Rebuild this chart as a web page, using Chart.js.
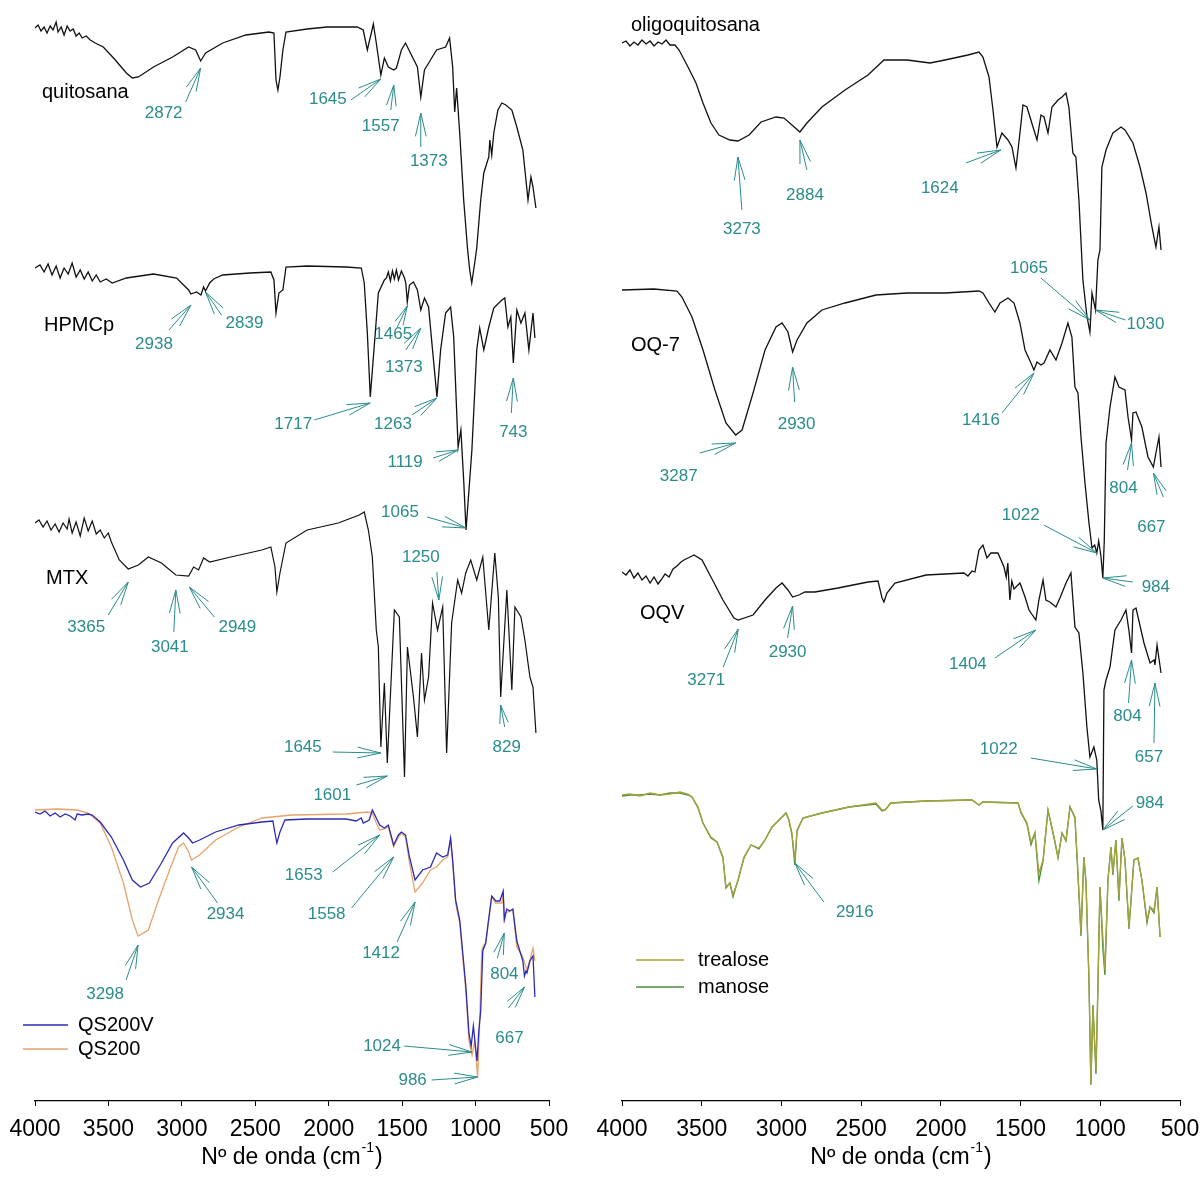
<!DOCTYPE html>
<html>
<head>
<meta charset="utf-8">
<title>Espectros FTIR</title>
<script src="https://cdn.jsdelivr.net/npm/chart.js@4.4.1/dist/chart.umd.min.js"></script>
<style>
  html, body { margin: 0; padding: 0; background: #fff; }
  #wrap { position: relative; width: 1201px; height: 1179px; overflow: hidden; background: #fff; }
  .panel { position: absolute; top: 0; }
  #pLeft { left: 0; }
  #pRight { left: 580px; }
</style>
</head>
<body>
<div id="wrap">
  <div class="panel" id="pLeft"><canvas id="cLeft" width="580" height="1179"></canvas></div>
  <div class="panel" id="pRight"><canvas id="cRight" width="621" height="1179"></canvas></div>
</div>
<script>
// ---- Spectra: [wavenumber (cm-1), transmittance (a.u., stacked offset)] ----
const quitosana = [
  [4000,1073],[3979,1076],[3959,1070],[3938,1074],[3918,1068],[3897,1075],[3877,1071],[3856,1079],[3843,1069],[3822,1074],
  [3802,1066],[3781,1075],[3761,1070],[3740,1072],[3720,1065],[3699,1068],[3679,1063],[3651,1065],[3624,1061],[3590,1058],
  [3535,1054],[3453,1041],[3378,1028],[3337,1023],[3296,1024],[3193,1034],[3063,1044],[2954,1054],[2906,1051],[2872,1040],
  [2838,1048],[2722,1058],[2564,1066],[2407,1069],[2373,1068],[2359,1021],[2346,1011],[2332,1024],[2312,1051],[2291,1069],
  [2147,1072],[2011,1074],[1806,1074],[1765,1071],[1737,1051],[1710,1068],[1696,1077],[1676,1058],[1645,1026],[1621,1043],
  [1594,1034],[1557,1031],[1539,1033],[1505,1051],[1477,1058],[1437,1046],[1396,1034],[1373,1004],[1348,1031],[1307,1041],
  [1266,1051],[1204,1054],[1177,1063],[1156,1034],[1142,989],[1129,1013],[1108,968],[1081,901],[1054,851],[1040,831],
  [1026,818],[1006,838],[992,853],[965,901],[944,928],[910,944],[903,961],[890,946],[876,968],[848,991],
  [821,998],[794,996],[753,991],[719,974],[678,951],[657,921],[643,901],[623,924],[609,914],[589,893]
];
const hpmcp = [
  [4000,833],[3966,836],[3938,829],[3911,837],[3884,826],[3856,835],[3829,823],[3802,833],[3774,827],[3747,838],
  [3720,824],[3692,831],[3665,822],[3638,829],[3610,820],[3583,826],[3556,819],[3515,822],[3474,818],[3378,823],
  [3193,827],[3036,823],[2954,811],[2938,807],[2900,809],[2870,806],[2852,814],[2839,810],[2811,818],[2783,822],
  [2722,826],[2537,828],[2394,829],[2373,821],[2359,788],[2339,808],[2312,811],[2291,834],[2147,835],[1881,834],
  [1778,833],[1758,818],[1737,768],[1717,704],[1683,768],[1662,808],[1621,821],[1607,823],[1594,829],[1580,820],
  [1566,830],[1553,822],[1539,831],[1525,821],[1505,830],[1484,823],[1475,818],[1465,799],[1450,816],[1423,819],
  [1396,811],[1373,791],[1348,803],[1320,794],[1293,751],[1263,704],[1238,751],[1204,788],[1170,794],[1149,764],
  [1119,654],[1100,671],[1080,618],[1065,571],[1045,611],[1025,651],[992,751],[972,773],[944,751],[910,774],
  [876,793],[821,801],[801,803],[780,774],[760,784],[743,738],[719,791],[691,778],[664,788],[637,751],
  [609,788],[596,763]
];
const mtx = [
  [4000,578],[3973,581],[3945,574],[3918,580],[3891,571],[3863,577],[3836,569],[3809,578],[3781,572],[3768,582],
  [3747,568],[3720,579],[3692,565],[3665,583],[3638,570],[3610,580],[3583,567],[3556,571],[3528,563],[3501,568],
  [3480,559],[3426,541],[3365,532],[3296,536],[3228,544],[3139,538],[3041,526],[2954,525],[2920,534],[2886,531],
  [2852,543],[2811,539],[2667,544],[2455,551],[2394,554],[2366,534],[2353,509],[2332,528],[2291,558],[2147,571],
  [1935,578],[1792,586],[1758,589],[1730,571],[1703,544],[1676,471],[1662,454],[1645,354],[1621,418],[1601,338],
  [1553,491],[1519,484],[1484,324],[1464,454],[1423,404],[1396,364],[1368,448],[1348,401],[1320,424],[1293,498],
  [1259,471],[1224,494],[1197,348],[1163,478],[1122,521],[1095,508],[1067,528],[1033,541],[992,521],[951,544],
  [910,471],[869,548],[845,504],[829,404],[787,511],[753,411],[732,494],[691,484],[664,461],[630,424],
  [609,414],[589,368]
];
const qs200v = [
  [4000,289],[3966,287],[3932,290],[3897,285],[3863,288],[3829,284],[3795,287],[3761,285],[3727,281],[3713,287],
  [3679,286],[3638,287],[3610,286],[3556,279],[3480,264],[3398,241],[3337,221],[3282,214],[3221,218],[3139,238],
  [3063,258],[2988,268],[2954,263],[2927,258],[2879,261],[2770,269],[2612,276],[2455,279],[2380,280],[2366,268],
  [2353,258],[2332,269],[2298,281],[2147,282],[1881,282],[1813,280],[1778,283],[1765,278],[1724,281],[1703,291],
  [1676,283],[1653,276],[1621,273],[1594,276],[1558,256],[1525,266],[1505,269],[1477,266],[1450,244],[1412,221],
  [1361,231],[1307,234],[1266,248],[1224,244],[1190,246],[1170,263],[1156,241],[1136,201],[1108,181],[1067,116],
  [1045,68],[1030,55],[1015,75],[1006,62],[990,40],[978,70],[965,90],[951,150],[931,158],[910,183],
  [890,205],[862,200],[835,200],[812,210],[804,182],[787,192],[767,190],[746,192],[719,160],[678,140],
  [667,125],[657,130],[650,128],[630,140],[609,145],[596,104]
];
const qs200 = [
  [4000,291],[3850,292],[3713,291],[3638,288],[3556,278],[3480,254],[3398,218],[3337,181],[3298,165],[3228,171],
  [3166,198],[3084,231],[3022,254],[2988,258],[2954,249],[2934,241],[2879,246],[2770,261],[2612,274],[2455,283],
  [2250,286],[1881,287],[1737,289],[1703,288],[1676,278],[1653,271],[1621,272],[1594,274],[1558,254],[1525,264],
  [1505,268],[1477,264],[1450,238],[1412,209],[1361,218],[1307,231],[1266,234],[1224,241],[1190,244],[1170,261],
  [1156,238],[1136,198],[1108,178],[1067,111],[1045,60],[1024,46],[1006,60],[986,24],[972,80],[958,150],
  [951,154],[931,158],[910,181],[890,204],[862,198],[835,198],[821,198],[812,208],[804,178],[795,188],
  [767,190],[746,191],[719,154],[678,144],[650,131],[630,141],[609,153],[596,140]
];
const oligoquitosana = [
  [4000,1058],[3975,1060],[3950,1055],[3925,1059],[3900,1056],[3875,1061],[3849,1057],[3824,1060],[3799,1055],[3774,1059],
  [3749,1057],[3724,1061],[3699,1056],[3668,1056],[3642,1051],[3586,1034],[3536,1018],[3492,998],[3442,978],[3392,966],
  [3323,961],[3273,960],[3203,966],[3128,979],[3034,984],[2984,983],[2934,976],[2884,969],[2840,978],[2746,994],
  [2601,1011],[2457,1026],[2357,1041],[2212,1041],[2068,1038],[1974,1041],[1830,1046],[1761,1049],[1736,1044],[1698,1024],
  [1673,991],[1648,954],[1617,968],[1579,961],[1554,954],[1529,933],[1504,968],[1485,996],[1460,994],[1422,974],
  [1397,961],[1372,986],[1353,984],[1328,968],[1303,994],[1265,1001],[1240,1004],[1215,1008],[1197,994],[1172,948],
  [1153,944],[1134,901],[1109,821],[1084,785],[1065,769],[1052,808],[1030,791],[1015,841],[1002,851],[990,934],
  [964,951],[939,961],[921,968],[895,971],[870,974],[845,971],[795,958],[751,934],[713,908],[676,874],
  [651,854],[632,874],[619,851]
];
const oq7 = [
  [4000,811],[3800,812],[3655,810],[3624,804],[3561,784],[3492,751],[3417,711],[3348,678],[3287,666],[3247,671],
  [3178,708],[3103,751],[3034,774],[2996,778],[2959,769],[2930,749],[2902,761],[2840,778],[2746,791],[2601,798],
  [2407,806],[2212,808],[1974,808],[1761,810],[1736,808],[1698,798],[1661,789],[1629,798],[1579,803],[1541,798],
  [1504,778],[1472,751],[1435,738],[1416,731],[1397,739],[1372,736],[1353,738],[1316,751],[1278,741],[1240,758],
  [1203,778],[1178,764],[1159,714],[1140,708],[1121,664],[1096,618],[1071,578],[1052,553],[1035,556],[1022,548],
  [1010,560],[996,545],[984,523],[975,560],[964,658],[939,694],[908,724],[883,714],[845,711],[826,684],
  [804,661],[795,688],[776,689],[739,674],[701,644],[667,634],[651,648],[632,664],[619,634]
];
const oqv = [
  [4000,529],[3975,526],[3950,531],[3925,523],[3900,528],[3875,521],[3849,525],[3824,518],[3799,524],[3774,517],
  [3755,521],[3730,527],[3705,524],[3680,532],[3655,535],[3630,539],[3611,541],[3586,543],[3561,545],[3548,546],
  [3498,541],[3442,524],[3367,501],[3298,483],[3271,481],[3178,486],[3103,501],[3034,513],[2996,518],[2959,511],
  [2930,504],[2890,506],[2852,509],[2790,509],[2645,513],[2457,519],[2394,520],[2369,503],[2357,499],[2338,508],
  [2288,518],[2093,526],[1855,528],[1830,525],[1805,530],[1786,529],[1761,551],[1736,556],[1711,543],[1686,548],
  [1642,548],[1604,534],[1590,524],[1580,538],[1567,501],[1555,520],[1541,512],[1504,518],[1472,504],[1447,491],
  [1404,481],[1385,501],[1359,521],[1341,501],[1316,499],[1278,494],[1253,503],[1215,518],[1184,528],[1159,474],
  [1134,468],[1109,428],[1084,374],[1065,344],[1040,354],[1022,341],[1010,301],[996,290],[984,271],[977,411],
  [964,421],[939,434],[908,471],[870,481],[839,491],[820,470],[804,448],[795,491],[776,493],[726,458],
  [688,438],[663,441],[657,436],[644,456],[619,428]
];
const trealose = [
  [4000,306],[3950,307],[3887,305],[3824,308],[3762,306],[3699,307],[3636,309],[3586,307],[3561,304],[3523,294],
  [3492,278],[3442,264],[3404,259],[3367,244],[3348,214],[3323,218],[3304,206],[3272,221],[3235,244],[3191,256],
  [3141,253],[3103,261],[3059,274],[2996,284],[2971,288],[2953,281],[2934,268],[2916,241],[2902,271],[2865,283],
  [2746,288],[2576,294],[2407,298],[2369,291],[2350,291],[2313,298],[2093,300],[1805,301],[1761,296],[1736,299],
  [1516,298],[1497,289],[1460,278],[1435,259],[1410,268],[1385,228],[1359,241],[1328,291],[1290,264],[1265,244],
  [1240,268],[1215,261],[1190,294],[1159,284],[1140,228],[1121,168],[1103,244],[1090,221],[1071,124],[1059,18],
  [1046,94],[1027,31],[1015,114],[1002,214],[983,161],[971,131],[952,221],[933,254],[921,228],[902,261],
  [883,204],[864,263],[845,241],[820,174],[789,241],[764,243],[739,221],[707,181],[688,194],[663,191],
  [644,214],[625,164]
];
const manose = [
  [4000,305],[3950,306],[3887,306],[3824,307],[3762,306],[3699,308],[3636,308],[3586,306],[3561,304],[3523,293],
  [3492,278],[3442,263],[3404,259],[3367,243],[3348,213],[3323,218],[3304,204],[3272,221],[3235,243],[3191,256],
  [3141,252],[3103,261],[3059,274],[2996,284],[2971,288],[2953,281],[2934,266],[2916,236],[2902,270],[2865,283],
  [2746,288],[2576,294],[2407,297],[2369,290],[2350,291],[2313,298],[2093,300],[1805,301],[1761,296],[1736,299],
  [1516,298],[1497,288],[1460,277],[1435,256],[1410,268],[1385,220],[1359,240],[1328,291],[1290,263],[1265,243],
  [1240,268],[1215,260],[1190,294],[1159,283],[1140,226],[1121,165],[1103,244],[1090,219],[1071,120],[1059,16],
  [1046,96],[1027,27],[1015,112],[1002,214],[983,150],[971,126],[952,221],[933,254],[921,226],[902,261],
  [883,200],[864,263],[845,241],[820,172],[789,241],[764,243],[739,221],[707,178],[688,194],[663,188],
  [644,214],[625,164]
];

// ---- Assigned bands (cm-1) and the transmittance level each arrow points at ----
const leftPeaks  = [2872,1645,1557,1373, 2938,2839,1465,1373,1717,1263,743,1119,1065,
                    3365,3041,2949,1250,1645,829,1601, 1653,1558,2934,3298,1412,804,667,1024,986];
const leftLevels = [1033,1022,1016,988, 796,809,795,773,698,703,723,651,573,
                    519,511,514,501,348,396,325, 266,244,234,156,199,168,114,49,24];
const rightPeaks  = [3273,2884,1624,1065,1030, 3287,2930,1416,804,667,1022,984,
                     3271,2930,1404,804,657,1022,984, 2916];
const rightLevels = [944,961,951,781,791, 658,734,728,658,628,548,523,
                     472,495,471,441,418,332,271, 238];

// ---- Series names, legend entries, axis ----
const leftNames  = ['quitosana', 'HPMCp', 'MTX'];
const rightNames = ['oligoquitosana', 'OQ-7', 'OQV'];
const leftLegend  = ['QS200V', 'QS200'];
const rightLegend = ['trealose', 'manose'];
const xTitle = 'Nº de onda (cm';
const xTitleSup = '-1';

// ---- Styling / layout (pixels) ----
const FONT = '"Liberation Sans", Arial, Helvetica, sans-serif';
const TEAL = '#2b8c8c';
const INK = '#111111';
const BLUE = '#2b2bb5';
const ORANGE = '#e8a26c';
const OLIVE = '#a3a23c';
const GREEN = '#4b8f3a';

// callout offsets from arrow tip: [tail dx, tail dy, label dx, label dy]
const leftCallouts = [
  [-15,34,-37,45],[-30,21,-53,20],[-3,25,-13,41],[0,34,8,48],
  [-22,25,-37,39],[16,23,39,31],[-10,21,-14,28],[-15,22,-17,39],[-56,17,-77,21],[-25,17,-44,26],
  [-2,35,0,54],[-25,8,-53,12],[-39,-11,-66,-16],
  [-20,33,-42,45],[-2,42,-6,57],[25,30,48,40],[-2,-28,-18,-43],[-48,-1,-78,-6],[4,22,6,42],[-31,9,-55,19],
  [-47,37,-76,40],[-42,51,-67,57],[26,36,34,47],[-12,35,-33,49],[-18,40,-34,51],[-7,25,0,41],
  [-16,21,-15,51],[-68,-6,-90,-6],[-46,3,-65,3]
];
const rightCallouts = [
  [4,53,4,72],[7,30,5,55],[-35,13,-61,38],[-49,-42,-61,-52],[30,10,50,14],
  [-36,10,-57,33],[2,35,4,57],[-32,40,-53,47],[-4,27,-8,45],[10,24,-2,54],[-53,-28,-76,-38],[30,4,53,9],
  [-15,38,-32,51],[-5,32,-5,46],[-41,28,-68,34],[-3,43,-4,56],[-1,60,-6,74],[-66,-11,-98,-20],[30,-24,47,-27],
  [29,39,60,49]
];

Chart.defaults.font.family = FONT;

const toXY = arr => arr.map(([x, y]) => ({ x, y }));

function line(label, data, color, width, order) {
  return {
    label, data: toXY(data), borderColor: color, backgroundColor: color,
    borderWidth: width, pointRadius: 0, fill: false, tension: 0, order
  };
}

function drawArrow(ctx, x0, y0, x1, y1) {
  const dx = x0 - x1, dy = y0 - y1;
  const len = Math.hypot(dx, dy);
  if (len < 1) return;
  const ux = dx / len, uy = dy / len;
  const L = Math.min(24, len * 0.85);
  const a = 13 * Math.PI / 180;
  ctx.beginPath();
  ctx.moveTo(x0, y0); ctx.lineTo(x1, y1);
  for (const s of [-1, 1]) {
    const c = Math.cos(s * a), sn = Math.sin(s * a);
    const bx = ux * c - uy * sn, by = ux * sn + uy * c;
    ctx.moveTo(x1, y1); ctx.lineTo(x1 + bx * L, y1 + by * L);
  }
  ctx.stroke();
}

const annotationPlugin = {
  id: 'ftirAnnotations',
  afterDraw(chart, args, o) {
    const { ctx, scales: { x, y }, chartArea } = chart;
    ctx.save();
    // band callouts
    ctx.strokeStyle = TEAL; ctx.fillStyle = TEAL; ctx.lineWidth = 1;
    ctx.font = '17px ' + FONT;
    ctx.textAlign = 'center'; ctx.textBaseline = 'middle';
    o.peaks.forEach((wn, i) => {
      const tx = x.getPixelForValue(wn), ty = y.getPixelForValue(o.levels[i]);
      const [tdx, tdy, ldx, ldy] = o.callouts[i];
      drawArrow(ctx, tx + tdx, ty + tdy, tx, ty);
      ctx.fillText(String(wn), tx + ldx, ty + ldy);
    });
    // series names
    ctx.fillStyle = '#000'; ctx.textAlign = 'left';
    ctx.font = '20px ' + FONT;
    o.names.forEach((n, i) => ctx.fillText(n, o.namePos[i][0], o.namePos[i][1]));
    // legend
    o.legend.forEach((n, i) => {
      const ly = o.legendPos.y + i * o.legendPos.gap;
      ctx.strokeStyle = o.legendColors[i]; ctx.lineWidth = 1.5;
      ctx.beginPath(); ctx.moveTo(o.legendPos.x0, ly); ctx.lineTo(o.legendPos.x1, ly); ctx.stroke();
      ctx.fillStyle = '#000';
      ctx.fillText(n, o.legendPos.tx, ly);
    });
    // axis title with superscript
    const cx = (chartArea.left + chartArea.right) / 2, cy = 1158;
    ctx.font = '23px ' + FONT;
    const w1 = ctx.measureText(xTitle).width;
    const w3 = ctx.measureText(')').width;
    ctx.font = '14px ' + FONT;
    const w2 = ctx.measureText(xTitleSup).width;
    let sx = cx - (w1 + w2 + w3 + 2) / 2;
    ctx.textAlign = 'left'; ctx.fillStyle = '#000';
    ctx.font = '23px ' + FONT; ctx.fillText(xTitle, sx, cy);
    ctx.font = '14px ' + FONT; ctx.fillText(xTitleSup, sx + w1 + 1, cy - 10);
    ctx.font = '23px ' + FONT; ctx.fillText(')', sx + w1 + w2 + 2, cy);
    ctx.restore();
  }
};

function makeOptions(padding, ann) {
  return {
    responsive: false,
    animation: false,
    devicePixelRatio: 1,
    parsing: false,
    normalized: true,
    layout: { padding },
    plugins: { legend: { display: false }, tooltip: { enabled: false }, ftirAnnotations: ann },
    scales: {
      x: {
        type: 'linear', reverse: true, min: 500, max: 4000,
        ticks: {
          stepSize: 500, color: '#000', font: { size: 23 }, padding: 10,
          maxRotation: 0, autoSkip: false, callback: v => String(v)
        },
        grid: { display: true, drawOnChartArea: false, drawTicks: true, tickLength: 5, color: '#000', tickColor: '#000' },
        border: { display: true, color: '#000', width: 1.2 },
        afterFit(s) { s.height = 78; s.paddingLeft = 0; s.paddingRight = 0; }
      },
      y: { display: false, min: 0, max: 1100 }
    }
  };
}

new Chart(document.getElementById('cLeft'), {
  type: 'line',
  data: {
    datasets: [
      line('quitosana', quitosana, INK, 1.3, 1),
      line('HPMCp', hpmcp, INK, 1.3, 1),
      line('MTX', mtx, INK, 1.2, 1),
      line('QS200V', qs200v, BLUE, 1.3, 2),
      line('QS200', qs200, ORANGE, 1.3, 3)
    ]
  },
  options: makeOptions({ left: 35, right: 31, top: 1, bottom: 0 }, {
    peaks: leftPeaks, levels: leftLevels, callouts: leftCallouts,
    names: leftNames, namePos: [[42, 92], [44, 325], [46, 578]],
    legend: leftLegend, legendColors: [BLUE, ORANGE],
    legendPos: { x0: 23, x1: 68, tx: 78, y: 1025, gap: 24 }
  }),
  plugins: [annotationPlugin]
});

new Chart(document.getElementById('cRight'), {
  type: 'line',
  data: {
    datasets: [
      line('oligoquitosana', oligoquitosana, INK, 1.3, 1),
      line('OQ-7', oq7, INK, 1.3, 1),
      line('OQV', oqv, INK, 1.3, 1),
      line('trealose', trealose, OLIVE, 1.3, 2),
      line('manose', manose, GREEN, 1.3, 3)
    ]
  },
  options: makeOptions({ left: 42, right: 21, top: 1, bottom: 0 }, {
    peaks: rightPeaks, levels: rightLevels, callouts: rightCallouts,
    names: rightNames, namePos: [[51, 25], [51, 345], [60, 613]],
    legend: rightLegend, legendColors: [OLIVE, GREEN],
    legendPos: { x0: 56, x1: 104, tx: 118, y: 960, gap: 27 }
  }),
  plugins: [annotationPlugin]
});
</script>
</body>
</html>
